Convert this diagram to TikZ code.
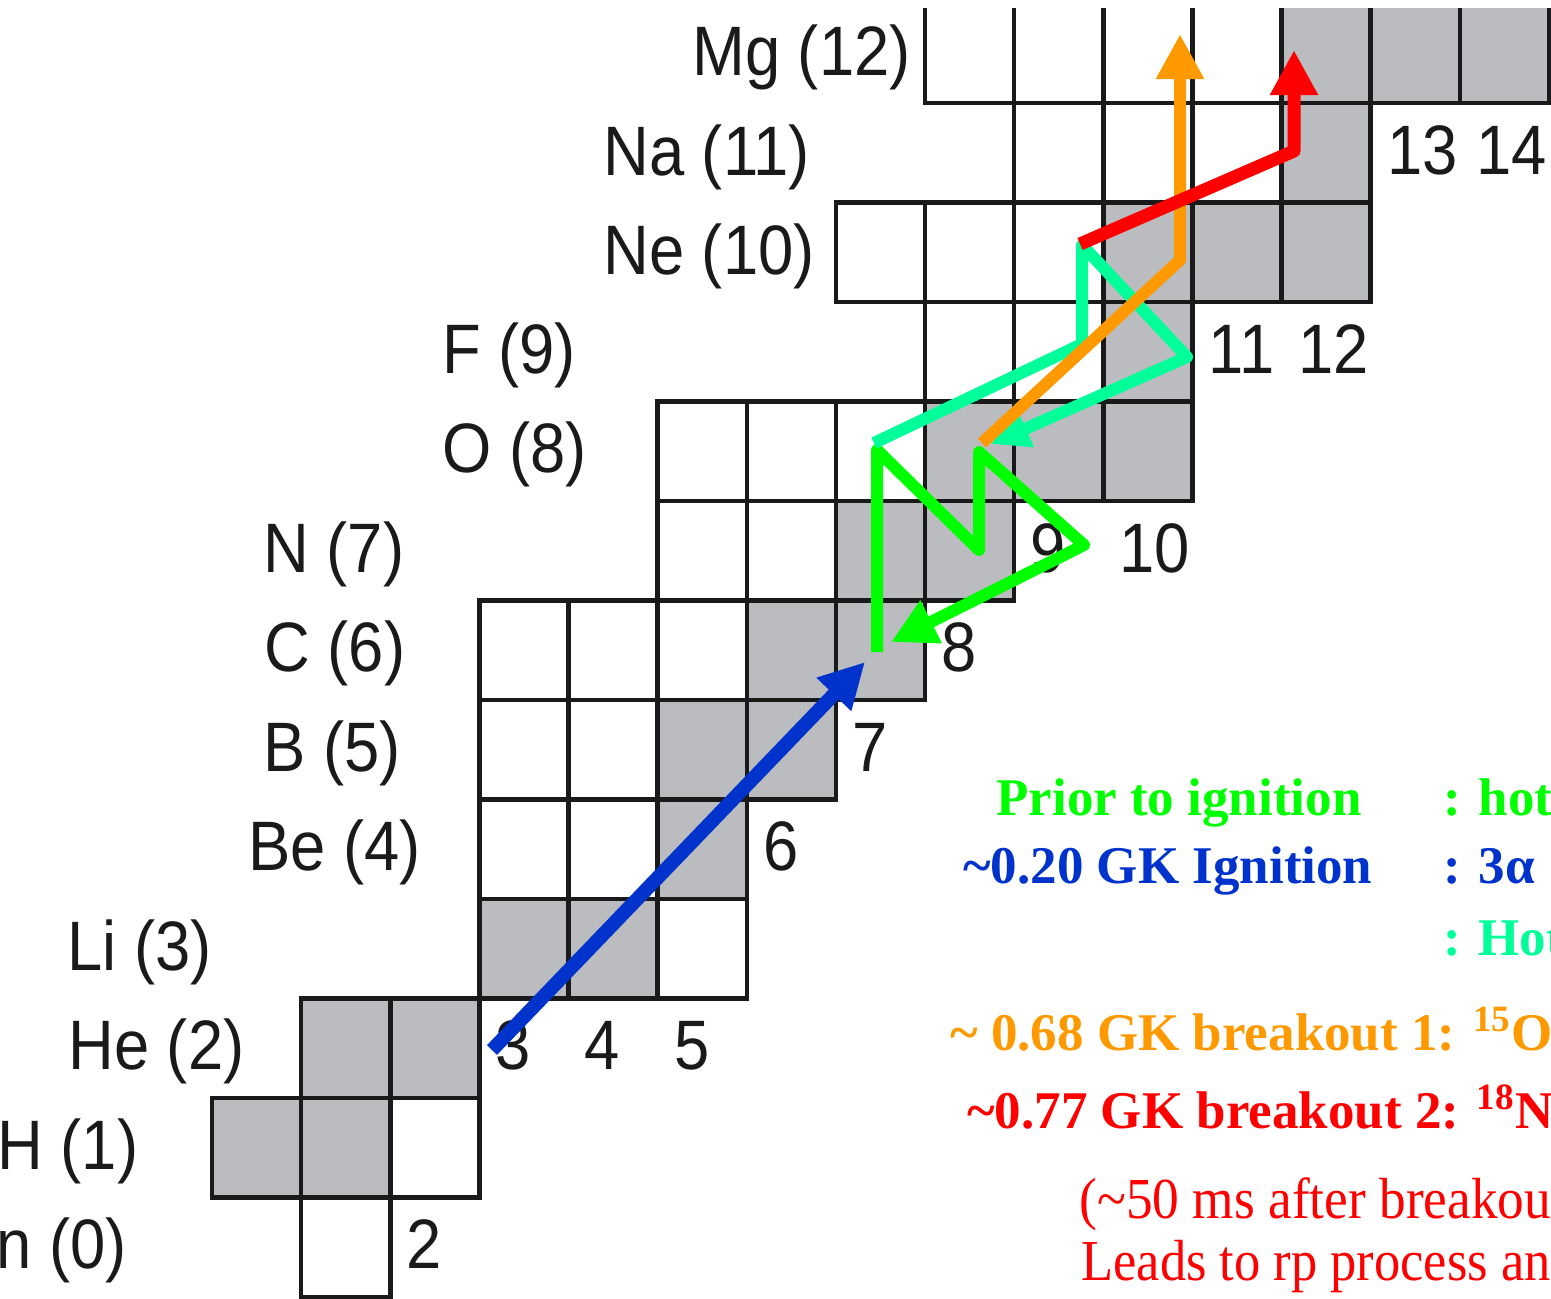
\documentclass[tikz,border=0pt]{standalone}
\usepackage{fontspec}
\usepackage{graphicx}
\usetikzlibrary{arrows.meta}
\newfontfamily\lsans{Liberation Sans}
\newfontfamily\lserif{Liberation Serif}
\definecolor{cgreen}{RGB}{0,255,0}
\definecolor{cblue}{RGB}{0,51,204}
\definecolor{ccyan}{RGB}{0,255,153}
\definecolor{corange}{RGB}{255,153,0}
\definecolor{cred}{RGB}{255,0,0}
\definecolor{cellgray}{RGB}{187,188,191}
\definecolor{gridk}{RGB}{26,26,26}
\newcommand{\hsq}[1]{\scalebox{0.905}[1]{#1}}
\newcommand{\rsq}[1]{\scalebox{0.92}[1]{#1}}
\newcommand{\rsqb}[1]{\scalebox{0.905}[1]{#1}}
\begin{document}
\begin{tikzpicture}[x=0.5pt,y=-0.5pt,
  cellbox/.style={draw=gridk, line width=2.25pt},
  elab/.style={anchor=base west, inner sep=0pt, text=gridk, font=\lsans\fontsize{35}{40}\selectfont},
  legb/.style={anchor=base west, inner sep=0pt, font=\lserif\bfseries\fontsize{26.5}{30}\selectfont},
  legr/.style={anchor=base west, inner sep=0pt, font=\lserif\fontsize{29}{32}\selectfont},
  flow/.style={line width=#1, line join=round, -{Triangle[length=22.5pt,width=22.5pt]}},
  flowsmall/.style={line width=#1, line join=round, -{Triangle[length=19pt,width=19pt]}}
]
\useasboundingbox (0,0) rectangle (1551,1298);
\clip (0,0) rectangle (1551,1298);

% ---- chart cells ----
\begin{scope}
\clip (0,8) rectangle (1551,1298);
\foreach \N/\Z/\c in {
  1/0/white,
  0/1/cellgray, 1/1/cellgray, 2/1/white,
  1/2/cellgray, 2/2/cellgray,
  3/3/cellgray, 4/3/cellgray, 5/3/white,
  3/4/white, 4/4/white, 5/4/cellgray,
  3/5/white, 4/5/white, 5/5/cellgray, 6/5/cellgray,
  3/6/white, 4/6/white, 5/6/white, 6/6/cellgray, 7/6/cellgray,
  5/7/white, 6/7/white, 7/7/cellgray, 8/7/cellgray,
  5/8/white, 6/8/white, 7/8/white, 8/8/cellgray, 9/8/cellgray, 10/8/cellgray,
  8/9/white, 9/9/white, 10/9/cellgray,
  7/10/white, 8/10/white, 9/10/white, 10/10/cellgray, 11/10/cellgray, 12/10/cellgray,
  9/11/white, 10/11/white, 11/11/white, 12/11/cellgray,
  8/12/white, 9/12/white, 10/12/white, 11/12/white, 12/12/cellgray, 13/12/cellgray, 14/12/cellgray}
{
  \filldraw[cellbox, fill=\c] ({212+89.13*\N},{1297-99.5*(\Z+1)}) rectangle ({212+89.13*(\N+1)},{1297-99.5*\Z});
}
\end{scope}

% ---- element labels ----
\node[elab] (lMg) at (692,75)   {\hsq{Mg (12)}};
\node[elab] (lNa) at (603,175)  {\hsq{Na (11)}};
\node[elab] (lNe) at (603,274)  {\hsq{Ne (10)}};
\node[elab] (lF)  at (442,373)  {\hsq{F (9)}};
\node[elab] (lO)  at (442,472)  {\hsq{O (8)}};
\node[elab] (lN)  at (263,572)  {\hsq{N (7)}};
\node[elab] (lC)  at (264,671)  {\hsq{C (6)}};
\node[elab] (lB)  at (263,771)  {\hsq{B (5)}};
\node[elab] (lBe) at (248,870)  {\hsq{Be (4)}};
\node[elab] (lLi) at (67,970)   {\hsq{Li (3)}};
\node[elab] (lHe) at (68,1069)  {\hsq{He (2)}};
\node[elab] (lH)  at (-3,1169)  {\hsq{H (1)}};
\node[elab] (ln)  at (-4,1268)  {\hsq{n (0)}};

% ---- neutron numbers ----
\node[elab] (n2)  at (406.3,1268)  {\hsq{2}};
\node[elab] (n3)  at (495.4,1069)  {\hsq{3}};
\node[elab] (n4)  at (584.5,1069)  {\hsq{4}};
\node[elab] (n5)  at (673.7,1069)  {\hsq{5}};
\node[elab] (n6)  at (762.8,870)   {\hsq{6}};
\node[elab] (n7)  at (851.9,771)   {\hsq{7}};
\node[elab] (n8)  at (941.0,671)   {\hsq{8}};
\node[elab] (n9)  at (1030.2,572)  {\hsq{9}};
\node[elab] (n10) at (1119.3,572)  {\hsq{10}};
\node[elab] (n11) at (1208.4,373)  {\hsq{11}};
\node[elab] (n12) at (1297.6,373)  {\hsq{12}};
\node[elab] (n13) at (1386.7,174)  {\hsq{13}};
\node[elab] (n14) at (1475.8,174)  {\hsq{14}};

% ---- legend ----
\node[legb, text=cgreen]  (t1)  at (996,815)  {Prior to ignition};
\node[legb, text=cgreen]  (t1b) at (1443,815) {: hot};
\node[legb, text=cblue]   (t2)  at (963,883)  {\textasciitilde0.20 GK Ignition};
\node[legb, text=cblue]   (t2b) at (1443,883) {: 3α};
\node[legb, text=ccyan]   (t3b) at (1443,955) {: Hot};
\node[legb, text=corange] (t4)  at (950,1050) {\textasciitilde\ 0.68 GK breakout 1: \textsuperscript{15}O};
\node[legb, text=cred]    (t5)  at (967,1128) {\textasciitilde0.77 GK breakout 2: \textsuperscript{18}N};
\node[legr, text=cred]    (t6)  at (1079,1218) {\rsq{(\textasciitilde50 ms after breakou}};
\node[legr, text=cred]    (t7)  at (1081,1280) {\rsqb{Leads to rp process an}};

% ---- path coordinates ----
\coordinate (b1) at (492,1050);
\coordinate (b2) at (865,662);
\coordinate (g1) at (877,652);
\coordinate (g2) at (877,450);
\coordinate (g3) at (979,550);
\coordinate (g4) at (979,452);
\coordinate (g5) at (1084,545);
\coordinate (g6) at (891,642);
\coordinate (c1) at (874,443);
\coordinate (c2) at (1082,344);
\coordinate (c3) at (1082,245);
\coordinate (c4) at (1187,357);
\coordinate (c5) at (991,444);
\coordinate (o1) at (982,443);
\coordinate (o2) at (1180,260);
\coordinate (o3) at (1180,34);
\coordinate (r1) at (1080,244);
\coordinate (r2) at (1294,151);
\coordinate (r3) at (1294,50);

% ---- reaction flows ----
\draw[flow=7pt, draw=cblue] (b1) -- (b2);
\draw[flow=6pt, draw=cgreen] (g1) -- (g2) -- (g3) -- (g4) -- (g5) -- (g6);
\draw[flowsmall=6pt, draw=ccyan] (c1) -- (c2) -- (c3) -- (c4) -- (c5);
\draw[flow=6pt, draw=corange] (o1) -- (o2) -- (o3);
\draw[flow=6.5pt, draw=cred] (r1) -- (r2) -- (r3);
\end{tikzpicture}
\end{document}
